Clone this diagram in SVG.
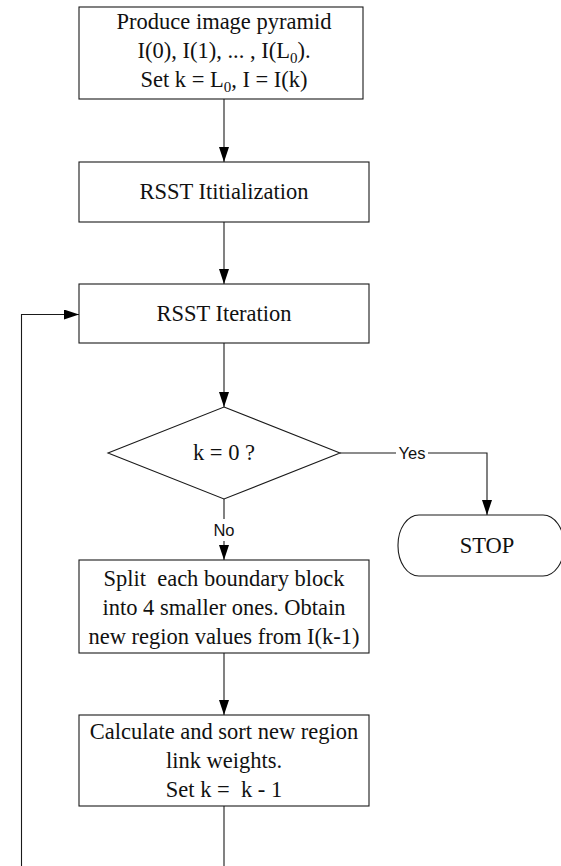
<svg xmlns="http://www.w3.org/2000/svg" width="561" height="866" viewBox="0 0 561 866">
  <style>
    .box { fill: #ffffff; stroke: #1a1a1a; stroke-width: 1.1; }
    .txt { font-family: "Liberation Serif", "Times New Roman", serif; font-size: 22.5px; fill: #111; text-anchor: middle; white-space: pre; }
    .sub { font-size: 15px; }
    .lbl { font-family: "Liberation Sans", Arial, sans-serif; font-size: 16.5px; fill: #111; text-anchor: middle; }
    .wire { fill: none; stroke: #1a1a1a; stroke-width: 1.1; }
  </style>
  <defs>
    <marker id="arrow" viewBox="0 0 15 10" refX="15" refY="5" markerWidth="15" markerHeight="10" markerUnits="userSpaceOnUse" orient="auto">
      <path d="M0,0 L15,5 L0,10 Z" fill="#000"/>
    </marker>
  </defs>

  <g id="connectors">
    <line class="wire" x1="224" y1="99" x2="224" y2="162" marker-end="url(#arrow)"/>
    <line class="wire" x1="224" y1="222" x2="224" y2="284" marker-end="url(#arrow)"/>
    <line class="wire" x1="224" y1="343" x2="224" y2="407" marker-end="url(#arrow)"/>
    <!-- No branch -->
    <line class="wire" x1="224" y1="499" x2="224" y2="519"/>
    <line class="wire" x1="224" y1="541" x2="224" y2="560" marker-end="url(#arrow)"/>
    <!-- Yes branch -->
    <line class="wire" x1="340" y1="453" x2="396" y2="453"/>
    <polyline class="wire" points="428,453 487,453 487,515" marker-end="url(#arrow)"/>
    <line class="wire" x1="224" y1="653" x2="224" y2="715" marker-end="url(#arrow)"/>
    <!-- loop back -->
    <line class="wire" x1="224" y1="806" x2="224" y2="866"/>
    <polyline class="wire" points="21.5,866 21.5,314.5 79,314.5" marker-end="url(#arrow)"/>
    <text class="lbl" x="412" y="459">Yes</text>
    <text class="lbl" x="224" y="536">No</text>
  </g>

  <g id="pyramid">
    <rect class="box" x="79" y="7" width="284" height="92"/>
    <text class="txt" x="224" y="29">Produce image pyramid</text>
    <text class="txt" x="224" y="58">I(0), I(1), ... , I(L<tspan class="sub" dy="5">0</tspan><tspan dy="-5">).</tspan></text>
    <text class="txt" x="224" y="87">Set k = L<tspan class="sub" dy="5">0</tspan><tspan dy="-5">, I = I(k)</tspan></text>
  </g>

  <g id="init">
    <rect class="box" x="79" y="162" width="290" height="60"/>
    <text class="txt" x="224" y="199">RSST Ititialization</text>
  </g>

  <g id="iteration">
    <rect class="box" x="79" y="284" width="290" height="59"/>
    <text class="txt" x="224" y="321">RSST Iteration</text>
  </g>

  <g id="decision">
    <polygon class="box" points="224,407 340,453 224,499 108,453"/>
    <text class="txt" x="224" y="460">k = 0 ?</text>
  </g>

  <g id="stop">
    <rect class="box" x="398" y="515" width="166" height="61" rx="21" ry="30"/>
    <text class="txt" x="487" y="553">STOP</text>
  </g>

  <g id="split">
    <rect class="box" x="79" y="560" width="290" height="93"/>
    <text class="txt" x="224" y="586">Split  each boundary block</text>
    <text class="txt" x="224" y="615">into 4 smaller ones. Obtain</text>
    <text class="txt" x="224" y="644">new region values from I(k-1)</text>
  </g>

  <g id="weights">
    <rect class="box" x="79" y="715" width="290" height="91"/>
    <text class="txt" x="224" y="739">Calculate and sort new region</text>
    <text class="txt" x="224" y="768">link weights.</text>
    <text class="txt" x="224" y="797">Set k =  k - 1</text>
  </g>
</svg>
